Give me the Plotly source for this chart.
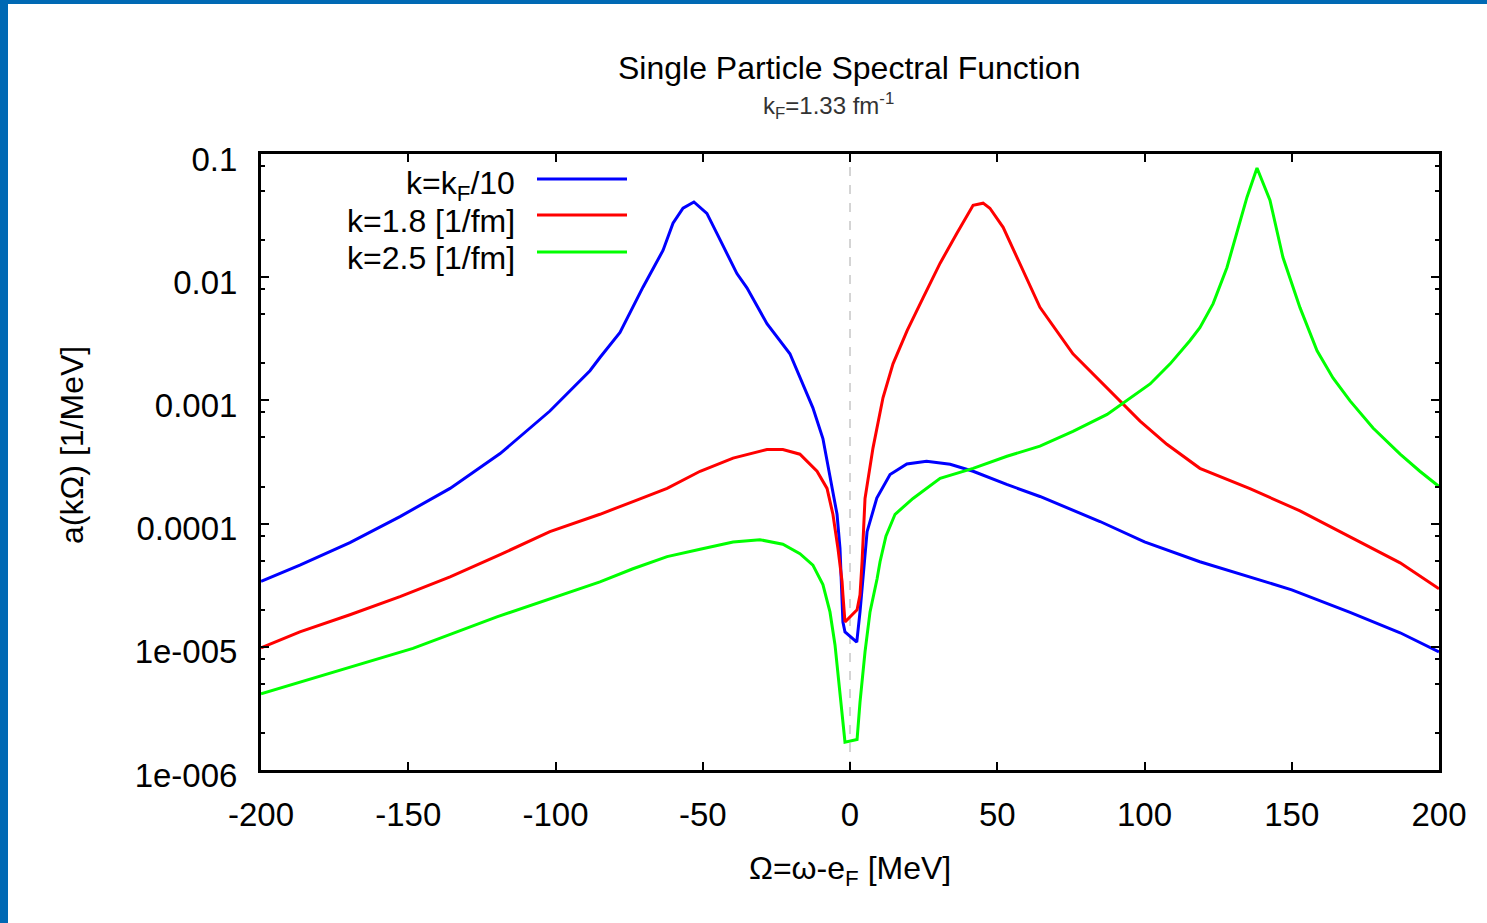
import plotly.graph_objects as go

# Spectral function a(k, Omega) for three momenta, Omega = omega - e_F in MeV
omega_kf10 = [-200, -186.8, -169.8, -152.8, -135.8, -118.8, -101.9, -88.3, -84.9, -78.1,
              -70.3, -63.5, -60.1, -56.7, -53.0, -48.6, -45.2, -38.4, -35.0, -28.2,
              -20.4, -17.0, -12.6, -9.2, -6.8, -4.4, -3.4, -2.4, -1.7, 2.3,
              3.4, 4.4, 5.8, 9.1, 13.6, 19.3, 26.0, 34.0, 41.8, 53.2,
              64.5, 84.9, 100, 118.8, 135.8, 150, 169.8, 186.8, 200]
a_kf10 = [3.4e-5, 4.6e-5, 7.0e-5, 1.14e-4, 1.93e-4, 3.7e-4, 8.2e-4, 1.74e-3, 2.23e-3, 3.56e-3,
          8.3e-3, 0.0165, 0.0274, 0.0363, 0.0408, 0.0330, 0.0227, 0.0107, 8.2e-3, 4.2e-3,
          2.39e-3, 1.52e-3, 8.7e-4, 4.9e-4, 2.5e-4, 1.19e-4, 6.3e-5, 1.59e-5, 1.32e-5, 1.09e-5,
          1.92e-5, 3.6e-5, 8.6e-5, 1.61e-4, 2.5e-4, 3.05e-4, 3.2e-4, 3.03e-4, 2.66e-4, 2.08e-4,
          1.66e-4, 1.04e-4, 7.1e-5, 4.9e-5, 3.7e-5, 2.9e-5, 1.9e-5, 1.3e-5, 9.1e-6]

omega_k18 = [-200, -186.8, -169.8, -152.8, -135.8, -118.8, -101.9, -84.9, -73.7, -62.1,
             -50.9, -39.7, -28.2, -22.8, -17.0, -11.2, -7.8, -5.8, -4.1, -2.7,
             -2.4, -1.7, 2.4, 3.4, 4.1, 5.1, 7.8, 11.2, 14.6, 19.4,
             24.8, 30.6, 36.3, 41.8, 45.2, 47.5, 52.0, 58.7, 64.5, 75.7,
             87.3, 92.7, 98.5, 107.6, 118.8, 135.8, 152.8, 169.8, 186.8, 200]
a_k18 = [9.8e-6, 1.32e-5, 1.82e-5, 2.55e-5, 3.7e-5, 5.6e-5, 8.6e-5, 1.19e-4, 1.51e-4, 1.93e-4,
         2.66e-4, 3.4e-4, 4.0e-4, 4.0e-4, 3.66e-4, 2.66e-4, 1.93e-4, 1.19e-4, 6.3e-5, 3.4e-5,
         2.64e-5, 1.59e-5, 2.0e-5, 2.64e-5, 4.9e-5, 1.6e-4, 4.1e-4, 1.05e-3, 1.98e-3, 3.68e-3,
         6.8e-3, 0.0130, 0.0227, 0.0384, 0.0399, 0.0363, 0.0254, 0.0114, 5.7e-3, 2.39e-3,
         1.26e-3, 9.3e-4, 6.8e-4, 4.4e-4, 2.81e-4, 1.92e-4, 1.27e-4, 7.8e-5, 4.8e-5, 2.96e-5]

omega_k25 = [-200, -175.6, -148.4, -119.9, -84.9, -73.7, -62.1, -50.9, -39.7, -30.6,
             -22.8, -17.0, -12.6, -9.2, -6.8, -5.1, -3.4, -1.7, 2.4, 3.4,
             5.1, 6.8, 9.2, 10.2, 12.2, 15.3, 21.4, 30.6, 41.8, 53.3, 64.5, 75.7,
             87.3, 98.5, 101.9, 108.7, 115.4, 118.8, 123.3, 128.0, 131.4, 134.8,
             138.2, 142.6, 147.0, 152.8, 158.6, 164.0, 169.8, 177.6, 186.8, 193.5, 200]
a_k25 = [4.15e-6, 6.2e-6, 9.7e-6, 1.75e-5, 3.37e-5, 4.3e-5, 5.4e-5, 6.2e-5, 7.1e-5, 7.4e-5,
         6.8e-5, 5.7e-5, 4.6e-5, 3.2e-5, 1.92e-5, 1.04e-5, 4.05e-6, 1.68e-6, 1.77e-6, 3.55e-6,
         9.1e-6, 1.92e-5, 3.57e-5, 4.9e-5, 7.9e-5, 1.19e-4, 1.6e-4, 2.33e-4, 2.81e-4, 3.52e-4, 4.25e-4, 5.6e-4,
         7.7e-4, 1.19e-3, 1.36e-3, 1.98e-3, 3.05e-3, 3.89e-3, 6.1e-3, 0.0120, 0.0227, 0.0446,
         0.0769, 0.0422, 0.0145, 5.66e-3, 2.53e-3, 1.52e-3, 9.9e-4, 5.96e-4, 3.66e-4, 2.66e-4, 2.0e-4]

series_names = ["k=k<sub>F</sub>/10", "k=1.8 [1/fm]", "k=2.5 [1/fm]"]
series_colors = ["#0000ff", "#ff0000", "#00ff00"]

y_tick_vals = [1e-6, 1e-5, 1e-4, 1e-3, 1e-2, 1e-1]
y_tick_text = ["1e-006", "1e-005", "0.0001", "0.001", "0.01", "0.1"]
x_tick_vals = [-200, -150, -100, -50, 0, 50, 100, 150, 200]
x_tick_text = ["-200", "-150", "-100", "-50", "0", "50", "100", "150", "200"]

FONT = "Arial, Liberation Sans, sans-serif"

# plot area in pixels
W, H = 1487, 923
L, R, T, B = 261, 1439, 154, 770


def px(xp):
    return (xp - L) / (R - L)


def py(yp):
    return 1 + (T - yp) / (B - T)


fig = go.Figure()
for xs, ys, name, col in zip([omega_kf10, omega_k18, omega_k25],
                             [a_kf10, a_k18, a_k25], series_names, series_colors):
    fig.add_trace(go.Scatter(x=xs, y=ys, mode="lines", name=name,
                             line=dict(color=col, width=3), showlegend=False))

minor_vals = [m * 10.0 ** e for e in range(-6, -1) for m in (2, 5, 8)]

fig.update_layout(
    width=W, height=H,
    margin=dict(l=L, r=W - R, t=T, b=H - B),
    paper_bgcolor="white", plot_bgcolor="white",
    font=dict(family=FONT, color="black"),
    showlegend=False,
)
fig.update_xaxes(
    range=[-200, 200], tickmode="array", tickvals=x_tick_vals, ticktext=x_tick_text,
    ticks="inside", ticklen=8, tickwidth=2, tickcolor="black",
    showline=True, linewidth=3, linecolor="black", mirror="ticks",
    showgrid=False, zeroline=False,
    tickfont=dict(size=33, family=FONT), ticklabelstandoff=13,
)
fig.update_yaxes(
    type="log", range=[-6, -1], tickmode="array",
    tickvals=y_tick_vals, ticktext=y_tick_text,
    ticks="inside", ticklen=8, tickwidth=2, tickcolor="black",
    minor=dict(tickmode="array", tickvals=minor_vals, ticks="inside",
               ticklen=4, tickwidth=2, tickcolor="black", showgrid=False),
    showline=True, linewidth=3, linecolor="black", mirror="ticks",
    showgrid=False, zeroline=False,
    tickfont=dict(size=33, family=FONT), ticklabelstandoff=14, ticklabelshift=5,
)

# dashed reference line at the Fermi energy
fig.add_shape(type="line", xref="x", yref="paper", x0=0, x1=0, y0=0, y1=1,
              line=dict(color="#aaaaaa", width=1, dash="dash"), layer="below")

# slide frame
fig.add_shape(type="rect", xref="paper", yref="paper",
              x0=px(0), x1=px(8), y0=py(H), y1=py(0),
              fillcolor="#0069b4", line=dict(width=0))
fig.add_shape(type="rect", xref="paper", yref="paper",
              x0=px(0), x1=px(W), y0=py(4), y1=py(0),
              fillcolor="#0069b4", line=dict(width=0))

# key
key_text_y = [185, 221, 258]
key_line_y = [179, 215, 252]
for name, col, ty, ly in zip(series_names, series_colors, key_text_y, key_line_y):
    fig.add_annotation(x=px(517), y=py(ty), xref="paper", yref="paper",
                       text=name, showarrow=False, xanchor="right", yanchor="middle",
                       font=dict(size=32, family=FONT, color="black"))
    fig.add_shape(type="line", xref="paper", yref="paper",
                  x0=px(537), x1=px(627), y0=py(ly), y1=py(ly),
                  line=dict(color=col, width=3))

# titles
fig.add_annotation(x=px(849), y=py(68), xref="paper", yref="paper",
                   text="Single Particle Spectral Function", showarrow=False,
                   xanchor="center", yanchor="middle",
                   font=dict(size=32, family=FONT, color="black"))
fig.add_annotation(x=px(828), y=py(106), xref="paper", yref="paper",
                   text="k<sub>F</sub>=1.33 fm<sup>-1</sup>", showarrow=False,
                   xanchor="center", yanchor="middle",
                   font=dict(size=24, family=FONT, color="#333333"))
fig.add_annotation(x=px(850), y=py(870), xref="paper", yref="paper",
                   text="Ω=ω-e<sub>F</sub> [MeV]", showarrow=False,
                   xanchor="center", yanchor="middle",
                   font=dict(size=32, family=FONT, color="black"))
fig.add_annotation(x=px(72), y=py(445), xref="paper", yref="paper",
                   text="a(kΩ) [1/MeV]", showarrow=False, textangle=-90,
                   xanchor="center", yanchor="middle",
                   font=dict(size=32, family=FONT, color="black"))

fig.write_html("out.html")
